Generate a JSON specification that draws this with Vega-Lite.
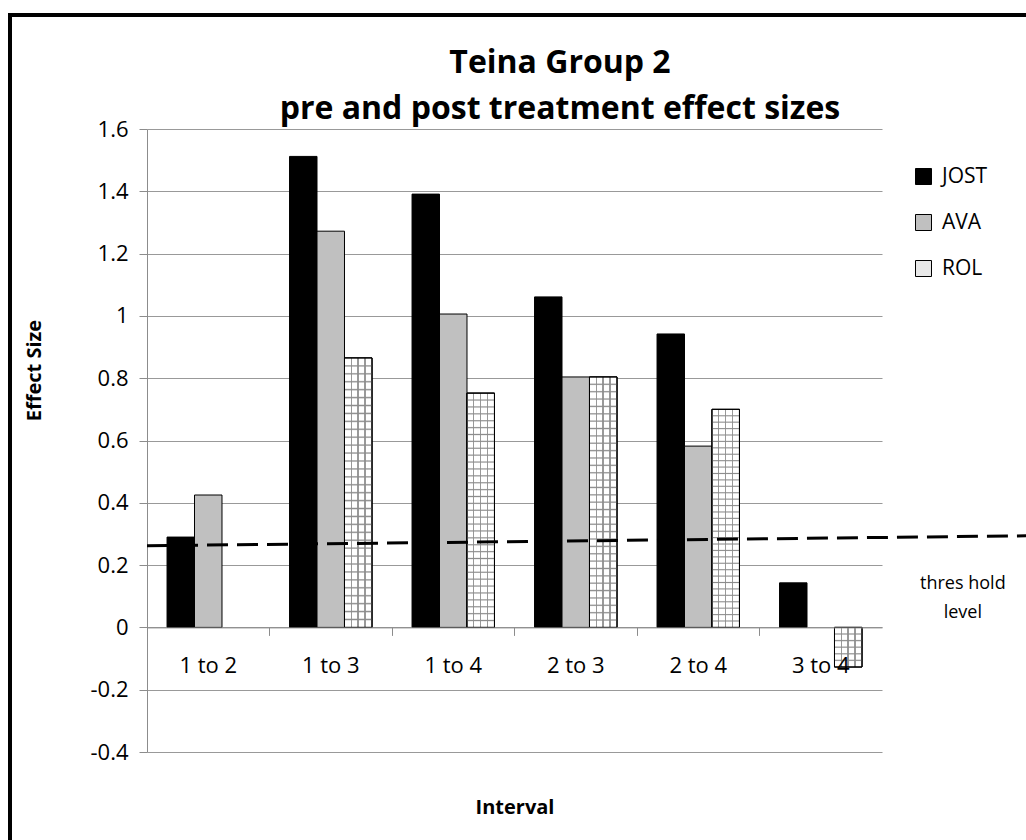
{
  "$schema": "https://vega.github.io/schema/vega-lite/v6.json",
  "autosize": "none",
  "width": 1020,
  "height": 829,
  "padding": {"left": 10, "top": 15, "right": 0, "bottom": 0},
  "background": "white",
  "config": {
    "font": "Open Sans",
    "view": {"stroke": "#000000", "strokeWidth": 4, "fill": "white"}
  },
  "title": {
    "text": ["Teina Group 2", "pre and post treatment effect sizes"],
    "font": "Open Sans",
    "fontSize": 32,
    "fontWeight": "bold",
    "color": "#000000",
    "lineHeight": 46,
    "anchor": "middle",
    "frame": "group",
    "dx": 40,
    "offset": -111,
    "baseline": "top"
  },
  "datasets": {
    "bars": [
      {"interval": "1 to 2", "series": "JOST", "value": 0.29},
      {"interval": "1 to 2", "series": "AVA", "value": 0.425},
      {"interval": "1 to 3", "series": "JOST", "value": 1.512},
      {"interval": "1 to 3", "series": "AVA", "value": 1.272},
      {"interval": "1 to 3", "series": "ROL", "value": 0.865},
      {"interval": "1 to 4", "series": "JOST", "value": 1.391},
      {"interval": "1 to 4", "series": "AVA", "value": 1.006},
      {"interval": "1 to 4", "series": "ROL", "value": 0.752},
      {"interval": "2 to 3", "series": "JOST", "value": 1.061},
      {"interval": "2 to 3", "series": "AVA", "value": 0.804},
      {"interval": "2 to 3", "series": "ROL", "value": 0.804},
      {"interval": "2 to 4", "series": "JOST", "value": 0.942},
      {"interval": "2 to 4", "series": "AVA", "value": 0.582},
      {"interval": "2 to 4", "series": "ROL", "value": 0.70},
      {"interval": "3 to 4", "series": "JOST", "value": 0.143},
      {"interval": "3 to 4", "series": "ROL", "value": -0.127}
    ],
    "threshold": [
      {"t": 0, "value": 0.262},
      {"t": 1.196, "value": 0.294}
    ],
    "thresholdLabel": [
      {"t": 1.11, "value": 0.138, "label": "thres hold\nlevel"}
    ]
  },
  "resolve": {"scale": {"x": "independent"}, "axis": {"x": "independent"}},
  "layer": [
    {
      "data": {"name": "bars"},
      "mark": {"type": "bar", "stroke": "#000000", "strokeWidth": 1},
      "encoding": {
        "x": {
          "field": "interval", "type": "nominal",
          "scale": {"domain": ["1 to 2", "1 to 3", "1 to 4", "2 to 3", "2 to 4", "3 to 4"], "range": [137, 872], "paddingInner": 0, "paddingOuter": 0},
          "axis": {
            "title": "Interval", "orient": "bottom", "offset": -216.6, "bandPosition": 0,
            "labelAngle": 0, "labelFontSize": 22, "labelColor": "#000000", "labelPadding": 20, "labelBaseline": "top",
            "tickSize": 8, "tickColor": "#8c8c8c", "domainColor": "#8c8c8c", "grid": false, "zindex": 1,
            "titleFontSize": 20, "titleFontWeight": "bold", "titleColor": "#000000", "titleY": 179.6, "titleBaseline": "middle"
          }
        },
        "xOffset": {"field": "series", "type": "nominal", "scale": {"domain": ["JOST", "AVA", "ROL"], "paddingInner": 0, "paddingOuter": 0.729}},
        "y": {
          "field": "value", "type": "quantitative", "title": "Effect Size",
          "scale": {"domain": [-0.4, 1.6], "range": [737, 114], "nice": false},
          "axis": {
            "values": [-0.4, -0.2, 0, 0.2, 0.4, 0.6, 0.8, 1, 1.2, 1.4, 1.6],
            "labelExpr": "'' + round(datum.value * 10) / 10",
            "offset": -137, "grid": true, "gridColor": "#999999", "gridWidth": 1,
            "domainColor": "#8c8c8c", "tickColor": "#8c8c8c", "tickSize": 8,
            "labelFontSize": 22, "labelColor": "#000000", "labelPadding": 11,
            "titleFontSize": 20, "titleFontWeight": "bold", "titleColor": "#000000",
            "titleX": -113, "titleY": 355, "titleBaseline": "middle", "titleAlign": "center"
          }
        },
        "fill": {
          "field": "series", "type": "nominal",
          "scale": {"domain": ["JOST", "AVA", "ROL"], "range": ["#000000", "#c0c0c0", "#e8e8e8"]},
          "legend": {
            "orient": "none", "legendX": 903, "legendY": 151, "title": null,
            "symbolType": "square", "symbolSize": 256, "symbolStrokeColor": "#000000", "symbolStrokeWidth": 1,
            "labelFontSize": 21, "labelColor": "#000000", "labelFont": "Open Sans", "rowPadding": 24, "labelOffset": 8
          }
        }
      }
    },
    {
      "data": {"name": "bars"},
      "transform": [{"filter": "datum.series === 'ROL'"}],
      "mark": {
        "type": "bar", "stroke": "#000000", "strokeWidth": 1,
        "fill": {
          "gradient": "linear", "x1": 0, "y1": 0, "x2": 1, "y2": 0,
          "stops": [
            {"offset": 0, "color": "#ffffff"}, {"offset": 0.22, "color": "#ffffff"},
            {"offset": 0.22, "color": "#999999"}, {"offset": 0.27, "color": "#999999"},
            {"offset": 0.27, "color": "#ffffff"}, {"offset": 0.47, "color": "#ffffff"},
            {"offset": 0.47, "color": "#999999"}, {"offset": 0.52, "color": "#999999"},
            {"offset": 0.52, "color": "#ffffff"}, {"offset": 0.72, "color": "#ffffff"},
            {"offset": 0.72, "color": "#999999"}, {"offset": 0.77, "color": "#999999"},
            {"offset": 0.77, "color": "#ffffff"}, {"offset": 1, "color": "#ffffff"}
          ]
        }
      },
      "encoding": {
        "x": {
          "field": "interval", "type": "nominal", "axis": null,
          "scale": {"domain": ["1 to 2", "1 to 3", "1 to 4", "2 to 3", "2 to 4", "3 to 4"], "range": [137, 872], "paddingInner": 0, "paddingOuter": 0}
        },
        "xOffset": {"field": "series", "type": "nominal", "scale": {"domain": ["JOST", "AVA", "ROL"], "paddingInner": 0, "paddingOuter": 0.729}},
        "y": {"field": "value", "type": "quantitative", "title": "Effect Size"}
      }
    },
    {
      "data": {"name": "bars"},
      "transform": [{"filter": "datum.series === 'ROL' && datum.value > 0.5"}],
      "mark": {
        "type": "bar", "stroke": "#000000", "strokeWidth": 1,
        "fill": {
          "gradient": "linear", "x1": 0, "y1": 0, "x2": 0, "y2": 1,
          "stops": [
            {"offset": 0, "color": "rgba(140,140,140,0)"},
            {"offset": 0.0244, "color": "rgba(140,140,140,0)"}, {"offset": 0.0294, "color": "#8c8c8c"}, {"offset": 0.0344, "color": "rgba(140,140,140,0)"},
            {"offset": 0.0538, "color": "rgba(140,140,140,0)"}, {"offset": 0.0588, "color": "#8c8c8c"}, {"offset": 0.0638, "color": "rgba(140,140,140,0)"},
            {"offset": 0.0832, "color": "rgba(140,140,140,0)"}, {"offset": 0.0882, "color": "#8c8c8c"}, {"offset": 0.0932, "color": "rgba(140,140,140,0)"},
            {"offset": 0.1126, "color": "rgba(140,140,140,0)"}, {"offset": 0.1176, "color": "#8c8c8c"}, {"offset": 0.1226, "color": "rgba(140,140,140,0)"},
            {"offset": 0.1421, "color": "rgba(140,140,140,0)"}, {"offset": 0.1471, "color": "#8c8c8c"}, {"offset": 0.1521, "color": "rgba(140,140,140,0)"},
            {"offset": 0.1715, "color": "rgba(140,140,140,0)"}, {"offset": 0.1765, "color": "#8c8c8c"}, {"offset": 0.1815, "color": "rgba(140,140,140,0)"},
            {"offset": 0.2009, "color": "rgba(140,140,140,0)"}, {"offset": 0.2059, "color": "#8c8c8c"}, {"offset": 0.2109, "color": "rgba(140,140,140,0)"},
            {"offset": 0.2303, "color": "rgba(140,140,140,0)"}, {"offset": 0.2353, "color": "#8c8c8c"}, {"offset": 0.2403, "color": "rgba(140,140,140,0)"},
            {"offset": 0.2597, "color": "rgba(140,140,140,0)"}, {"offset": 0.2647, "color": "#8c8c8c"}, {"offset": 0.2697, "color": "rgba(140,140,140,0)"},
            {"offset": 0.2891, "color": "rgba(140,140,140,0)"}, {"offset": 0.2941, "color": "#8c8c8c"}, {"offset": 0.2991, "color": "rgba(140,140,140,0)"},
            {"offset": 0.3185, "color": "rgba(140,140,140,0)"}, {"offset": 0.3235, "color": "#8c8c8c"}, {"offset": 0.3285, "color": "rgba(140,140,140,0)"},
            {"offset": 0.3479, "color": "rgba(140,140,140,0)"}, {"offset": 0.3529, "color": "#8c8c8c"}, {"offset": 0.3579, "color": "rgba(140,140,140,0)"},
            {"offset": 0.3774, "color": "rgba(140,140,140,0)"}, {"offset": 0.3824, "color": "#8c8c8c"}, {"offset": 0.3874, "color": "rgba(140,140,140,0)"},
            {"offset": 0.4068, "color": "rgba(140,140,140,0)"}, {"offset": 0.4118, "color": "#8c8c8c"}, {"offset": 0.4168, "color": "rgba(140,140,140,0)"},
            {"offset": 0.4362, "color": "rgba(140,140,140,0)"}, {"offset": 0.4412, "color": "#8c8c8c"}, {"offset": 0.4462, "color": "rgba(140,140,140,0)"},
            {"offset": 0.4656, "color": "rgba(140,140,140,0)"}, {"offset": 0.4706, "color": "#8c8c8c"}, {"offset": 0.4756, "color": "rgba(140,140,140,0)"},
            {"offset": 0.495, "color": "rgba(140,140,140,0)"}, {"offset": 0.5, "color": "#8c8c8c"}, {"offset": 0.505, "color": "rgba(140,140,140,0)"},
            {"offset": 0.5244, "color": "rgba(140,140,140,0)"}, {"offset": 0.5294, "color": "#8c8c8c"}, {"offset": 0.5344, "color": "rgba(140,140,140,0)"},
            {"offset": 0.5538, "color": "rgba(140,140,140,0)"}, {"offset": 0.5588, "color": "#8c8c8c"}, {"offset": 0.5638, "color": "rgba(140,140,140,0)"},
            {"offset": 0.5832, "color": "rgba(140,140,140,0)"}, {"offset": 0.5882, "color": "#8c8c8c"}, {"offset": 0.5932, "color": "rgba(140,140,140,0)"},
            {"offset": 0.6126, "color": "rgba(140,140,140,0)"}, {"offset": 0.6176, "color": "#8c8c8c"}, {"offset": 0.6226, "color": "rgba(140,140,140,0)"},
            {"offset": 0.6421, "color": "rgba(140,140,140,0)"}, {"offset": 0.6471, "color": "#8c8c8c"}, {"offset": 0.6521, "color": "rgba(140,140,140,0)"},
            {"offset": 0.6715, "color": "rgba(140,140,140,0)"}, {"offset": 0.6765, "color": "#8c8c8c"}, {"offset": 0.6815, "color": "rgba(140,140,140,0)"},
            {"offset": 0.7009, "color": "rgba(140,140,140,0)"}, {"offset": 0.7059, "color": "#8c8c8c"}, {"offset": 0.7109, "color": "rgba(140,140,140,0)"},
            {"offset": 0.7303, "color": "rgba(140,140,140,0)"}, {"offset": 0.7353, "color": "#8c8c8c"}, {"offset": 0.7403, "color": "rgba(140,140,140,0)"},
            {"offset": 0.7597, "color": "rgba(140,140,140,0)"}, {"offset": 0.7647, "color": "#8c8c8c"}, {"offset": 0.7697, "color": "rgba(140,140,140,0)"},
            {"offset": 0.7891, "color": "rgba(140,140,140,0)"}, {"offset": 0.7941, "color": "#8c8c8c"}, {"offset": 0.7991, "color": "rgba(140,140,140,0)"},
            {"offset": 0.8185, "color": "rgba(140,140,140,0)"}, {"offset": 0.8235, "color": "#8c8c8c"}, {"offset": 0.8285, "color": "rgba(140,140,140,0)"},
            {"offset": 0.8479, "color": "rgba(140,140,140,0)"}, {"offset": 0.8529, "color": "#8c8c8c"}, {"offset": 0.8579, "color": "rgba(140,140,140,0)"},
            {"offset": 0.8774, "color": "rgba(140,140,140,0)"}, {"offset": 0.8824, "color": "#8c8c8c"}, {"offset": 0.8874, "color": "rgba(140,140,140,0)"},
            {"offset": 0.9068, "color": "rgba(140,140,140,0)"}, {"offset": 0.9118, "color": "#8c8c8c"}, {"offset": 0.9168, "color": "rgba(140,140,140,0)"},
            {"offset": 0.9362, "color": "rgba(140,140,140,0)"}, {"offset": 0.9412, "color": "#8c8c8c"}, {"offset": 0.9462, "color": "rgba(140,140,140,0)"},
            {"offset": 0.9656, "color": "rgba(140,140,140,0)"}, {"offset": 0.9706, "color": "#8c8c8c"}, {"offset": 0.9756, "color": "rgba(140,140,140,0)"},
            {"offset": 1, "color": "rgba(140,140,140,0)"}
          ]
        }
      },
      "encoding": {
        "x": {
          "field": "interval", "type": "nominal", "axis": null,
          "scale": {"domain": ["1 to 2", "1 to 3", "1 to 4", "2 to 3", "2 to 4", "3 to 4"], "range": [137, 872], "paddingInner": 0, "paddingOuter": 0}
        },
        "xOffset": {"field": "series", "type": "nominal", "scale": {"domain": ["JOST", "AVA", "ROL"], "paddingInner": 0, "paddingOuter": 0.729}},
        "y": {"field": "value", "type": "quantitative", "title": "Effect Size"}
      }
    },
    {
      "data": {"name": "bars"},
      "transform": [{"filter": "datum.series === 'ROL' && datum.value < 0"}],
      "mark": {
        "type": "bar", "stroke": "#000000", "strokeWidth": 1,
        "fill": {
          "gradient": "linear", "x1": 0, "y1": 0, "x2": 0, "y2": 1,
          "stops": [
            {"offset": 0, "color": "rgba(140,140,140,0)"},
            {"offset": 0.1367, "color": "rgba(140,140,140,0)"}, {"offset": 0.1667, "color": "#8c8c8c"}, {"offset": 0.1967, "color": "rgba(140,140,140,0)"},
            {"offset": 0.3033, "color": "rgba(140,140,140,0)"}, {"offset": 0.3333, "color": "#8c8c8c"}, {"offset": 0.3633, "color": "rgba(140,140,140,0)"},
            {"offset": 0.47, "color": "rgba(140,140,140,0)"}, {"offset": 0.5, "color": "#8c8c8c"}, {"offset": 0.53, "color": "rgba(140,140,140,0)"},
            {"offset": 0.6367, "color": "rgba(140,140,140,0)"}, {"offset": 0.6667, "color": "#8c8c8c"}, {"offset": 0.6967, "color": "rgba(140,140,140,0)"},
            {"offset": 0.8033, "color": "rgba(140,140,140,0)"}, {"offset": 0.8333, "color": "#8c8c8c"}, {"offset": 0.8633, "color": "rgba(140,140,140,0)"},
            {"offset": 1, "color": "rgba(140,140,140,0)"}
          ]
        }
      },
      "encoding": {
        "x": {
          "field": "interval", "type": "nominal", "axis": null,
          "scale": {"domain": ["1 to 2", "1 to 3", "1 to 4", "2 to 3", "2 to 4", "3 to 4"], "range": [137, 872], "paddingInner": 0, "paddingOuter": 0}
        },
        "xOffset": {"field": "series", "type": "nominal", "scale": {"domain": ["JOST", "AVA", "ROL"], "paddingInner": 0, "paddingOuter": 0.729}},
        "y": {"field": "value", "type": "quantitative", "title": "Effect Size"}
      }
    },
    {
      "data": {"name": "threshold"},
      "mark": {"type": "line", "color": "#000000", "strokeWidth": 3, "strokeDash": [21, 9]},
      "encoding": {
        "x": {"field": "t", "type": "quantitative", "axis": null, "scale": {"domain": [0, 1], "range": [137, 872], "nice": false, "zero": false}},
        "y": {"field": "value", "type": "quantitative", "title": "Effect Size"}
      }
    },
    {
      "data": {"name": "thresholdLabel"},
      "mark": {"type": "text", "font": "Open Sans", "fontSize": 18, "color": "#000000", "align": "center", "baseline": "middle", "lineBreak": "\n", "lineHeight": 29},
      "encoding": {
        "x": {"field": "t", "type": "quantitative", "axis": null, "scale": {"domain": [0, 1], "range": [137, 872], "nice": false, "zero": false}},
        "y": {"field": "value", "type": "quantitative", "title": "Effect Size"},
        "text": {"field": "label"}
      }
    }
  ]
}
